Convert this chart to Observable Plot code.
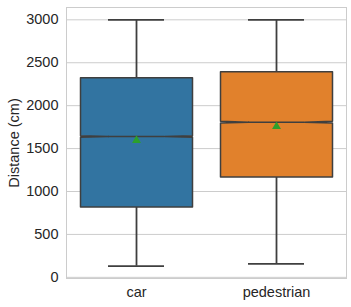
<!DOCTYPE html>
<html><head><meta charset="utf-8">
<script src="https://cdn.jsdelivr.net/npm/d3@7"></script>
<script src="https://cdn.jsdelivr.net/npm/@observablehq/plot@0.6"></script>
<style>
body{margin:0;background:#fff;}
svg{font-family:"Liberation Sans",Arial,sans-serif;}
</style></head>
<body><div id="chart"></div>
<script>
const categories = ["car", "pedestrian"];
const whiskerLow = [130, 158];
const q1 = [820, 1170];
const median = [1640, 1808];
const q3 = [2325, 2396];
const whiskerHigh = [3000, 3000];
const means = [1595, 1757];
const notchHalf = [9, 9];
const colors = ["#3274a1", "#e1812c"];
const yTicks = [0, 500, 1000, 1500, 2000, 2500, 3000];

const edge = "#3f3f3f";
const half = 0.4; // box half width in category units
const rows = categories.map((c, i) => ({c, i, lo: whiskerLow[i], q1: q1[i], med: median[i], q3: q3[i], hi: whiskerHigh[i], mean: means[i], n: notchHalf[i]}));

function notchPoly(r) {
  const L = r.i - half, R = r.i + half, inL = r.i - half / 2, inR = r.i + half / 2;
  const pts = [
    [L, r.q1], [L, r.med - r.n], [inL, r.med], [L, r.med + r.n], [L, r.q3],
    [R, r.q3], [R, r.med + r.n], [inR, r.med], [R, r.med - r.n], [R, r.q1], [L, r.q1]
  ];
  return pts.map(([x, y]) => ({x, y}));
}

const lo = d3.min(whiskerLow), hi = d3.max(whiskerHigh), pad = (hi - lo) * 0.05;

const plot = Plot.plot({
  width: 351,
  height: 307,
  marginLeft: 66,
  marginRight: 5,
  marginTop: 7,
  marginBottom: 29,
  style: {background: "#fff"},
  x: {domain: [-0.5, categories.length - 0.5]},
  y: {domain: [lo - pad, hi + pad]},
  marks: [
    Plot.ruleY(yTicks, {stroke: "#cccccc", strokeWidth: 1}),
    Plot.frame({stroke: "#cccccc", strokeWidth: 1}),
    Plot.axisY({ticks: yTicks, tickFormat: d3.format("d"), tickSize: 0, tickPadding: 8, fontSize: 14.5, fill: "#262626",
      label: "Distance (cm)", labelAnchor: "center", labelArrow: "none", labelOffset: 58}),
    Plot.axisX({ticks: categories.map((c, i) => i), tickFormat: i => categories[i], tickSize: 0, tickPadding: 8, fontSize: 14.5, fill: "#262626", label: null}),
    Plot.ruleX(rows, {x: "i", y1: "lo", y2: "q1", stroke: edge, strokeWidth: 1.8}),
    Plot.ruleX(rows, {x: "i", y1: "q3", y2: "hi", stroke: edge, strokeWidth: 1.8}),
    Plot.ruleY(rows, {y: "lo", x1: d => d.i - half / 2, x2: d => d.i + half / 2, stroke: edge, strokeWidth: 1.8}),
    Plot.ruleY(rows, {y: "hi", x1: d => d.i - half / 2, x2: d => d.i + half / 2, stroke: edge, strokeWidth: 1.8}),
    ...rows.map((r, k) => Plot.line(notchPoly(r), {x: "x", y: "y", fill: colors[k], stroke: edge, strokeWidth: 1.5, curve: "linear"})),
    Plot.ruleY(rows, {y: "med", x1: d => d.i - half / 2, x2: d => d.i + half / 2, stroke: edge, strokeWidth: 1.5}),
    Plot.dot(rows, {x: "i", y: "mean", symbol: "triangle", r: 3.3, fill: "#2ca02c", stroke: "none"})
  ]
});
document.getElementById("chart").appendChild(plot);
</script>
</body></html>
